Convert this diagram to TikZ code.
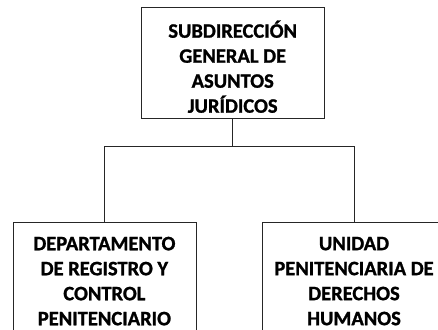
\documentclass[tikz,border=0pt]{standalone}
\usepackage{fontspec}
\setmainfont{Carlito}[BoldFont={Carlito Bold}, BoldFeatures={FakeBold=1.2}]
\usetikzlibrary{positioning}

\tikzset{
  unitbox/.style={draw=black!85, line width=0.8pt, anchor=north, minimum width=183pt,
    align=center, inner sep=0pt, font=\fontsize{20.5}{25}\selectfont\bfseries},
  link/.style={draw=black!85, line width=0.8pt}
}

\begin{document}
\begin{tikzpicture}[x=1pt, y=-1pt]

% frame of the picture
\useasboundingbox (0,0) rectangle (438,329);
\clip (0,0) rectangle (438,329);

% TOP BOX
\node[unitbox, minimum height=110.8pt] (sub) at (232.7,7.5)
  {\rule{0pt}{24pt}SUBDIRECCIÓN\\GENERAL DE\\ASUNTOS\\JURÍDICOS};

% LOWER BOXES
\node[unitbox, minimum height=118pt] (dep) at (104.4,221.7)
  {DEPARTAMENTO\\DE REGISTRO Y\\CONTROL\\PENITENCIARIO};
\node[unitbox, minimum height=118pt] (uni) at (354,221.7)
  {UNIDAD\\PENITENCIARIA DE\\DERECHOS\\HUMANOS};

% Connectors
\draw[link] (sub.south) -- ++(0,27) -| (dep.north);
\draw[link] (sub.south) -- ++(0,27) -| (uni.north);

\end{tikzpicture}
\end{document}
